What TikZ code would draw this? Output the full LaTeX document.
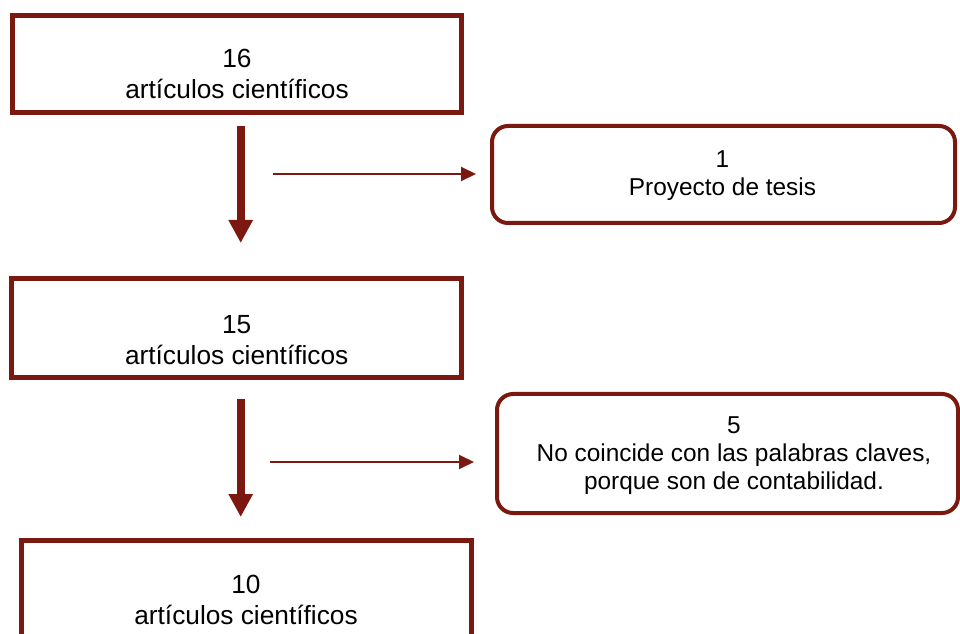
\documentclass[tikz,border=0pt]{standalone}
\usepackage{fontspec}
\setmainfont{Liberation Sans}
\usetikzlibrary{arrows.meta}
\definecolor{dred}{RGB}{123,25,17}
\begin{document}
\begin{tikzpicture}[x=0.75pt,y=-0.75pt,
  sqbox/.style={draw=dred, line width=3.75pt, rectangle, inner sep=0pt},
  rbox/.style={draw=dred, line width=3pt, rectangle, rounded corners=12pt, inner sep=0pt},
  ltext/.style={align=center, inner sep=0pt, font=\fontsize{19.7}{23.25}\selectfont},
  rtext/.style={align=center, inner sep=0pt, font=\fontsize{18.3}{21}\selectfont},
  bigarrow/.style={draw=dred, line width=6pt, -{Triangle[length=17.25pt,width=17.25pt]}},
  thinarrow/.style={draw=dred, line width=1.5pt, -{Triangle[length=11.25pt,width=10.5pt]}}]
\clip (0,0) rectangle (960,634);
\fill[white] (0,0) rectangle (960,634);
% boxes
\node[sqbox, minimum width=449*0.75pt, minimum height=97*0.75pt] (b1) at (237,64) {};
\node[sqbox, minimum width=449.7*0.75pt, minimum height=98.5*0.75pt] (b2) at (236.7,328.2) {};
\node[sqbox, minimum width=450*0.75pt, minimum height=98*0.75pt] (b3) at (246,589) {};
\node[rbox, minimum width=463*0.75pt, minimum height=97*0.75pt] (r1) at (723.5,174.5) {};
\node[rbox, minimum width=461*0.75pt, minimum height=119*0.75pt] (r2) at (727.5,453.5) {};
% texts
\node[ltext] (t1) at (237,73.7) {16\\artículos científicos};
\node[ltext] (t2) at (236.7,340) {15\\artículos científicos};
\node[ltext] (t3) at (246,600) {10\\artículos científicos};
\node[rtext] (u1) at (722.5,175.5) {1\\Proyecto de tesis};
\node[rtext] (u2) at (734,456) {5\\No coincide con las palabras claves,\\porque son de contabilidad.};
% arrow end points
\coordinate (a1s) at (240.7,126);
\coordinate (a1e) at (240.7,243);
\coordinate (a2s) at (240.7,399);
\coordinate (a2e) at (240.7,517);
\coordinate (h1s) at (273,174);
\coordinate (h1e) at (476,174);
\coordinate (h2s) at (270,462);
\coordinate (h2e) at (474,462);
\draw[bigarrow] (a1s) -- (a1e);
\draw[bigarrow] (a2s) -- (a2e);
\draw[thinarrow] (h1s) -- (h1e);
\draw[thinarrow] (h2s) -- (h2e);
\end{tikzpicture}
\end{document}
